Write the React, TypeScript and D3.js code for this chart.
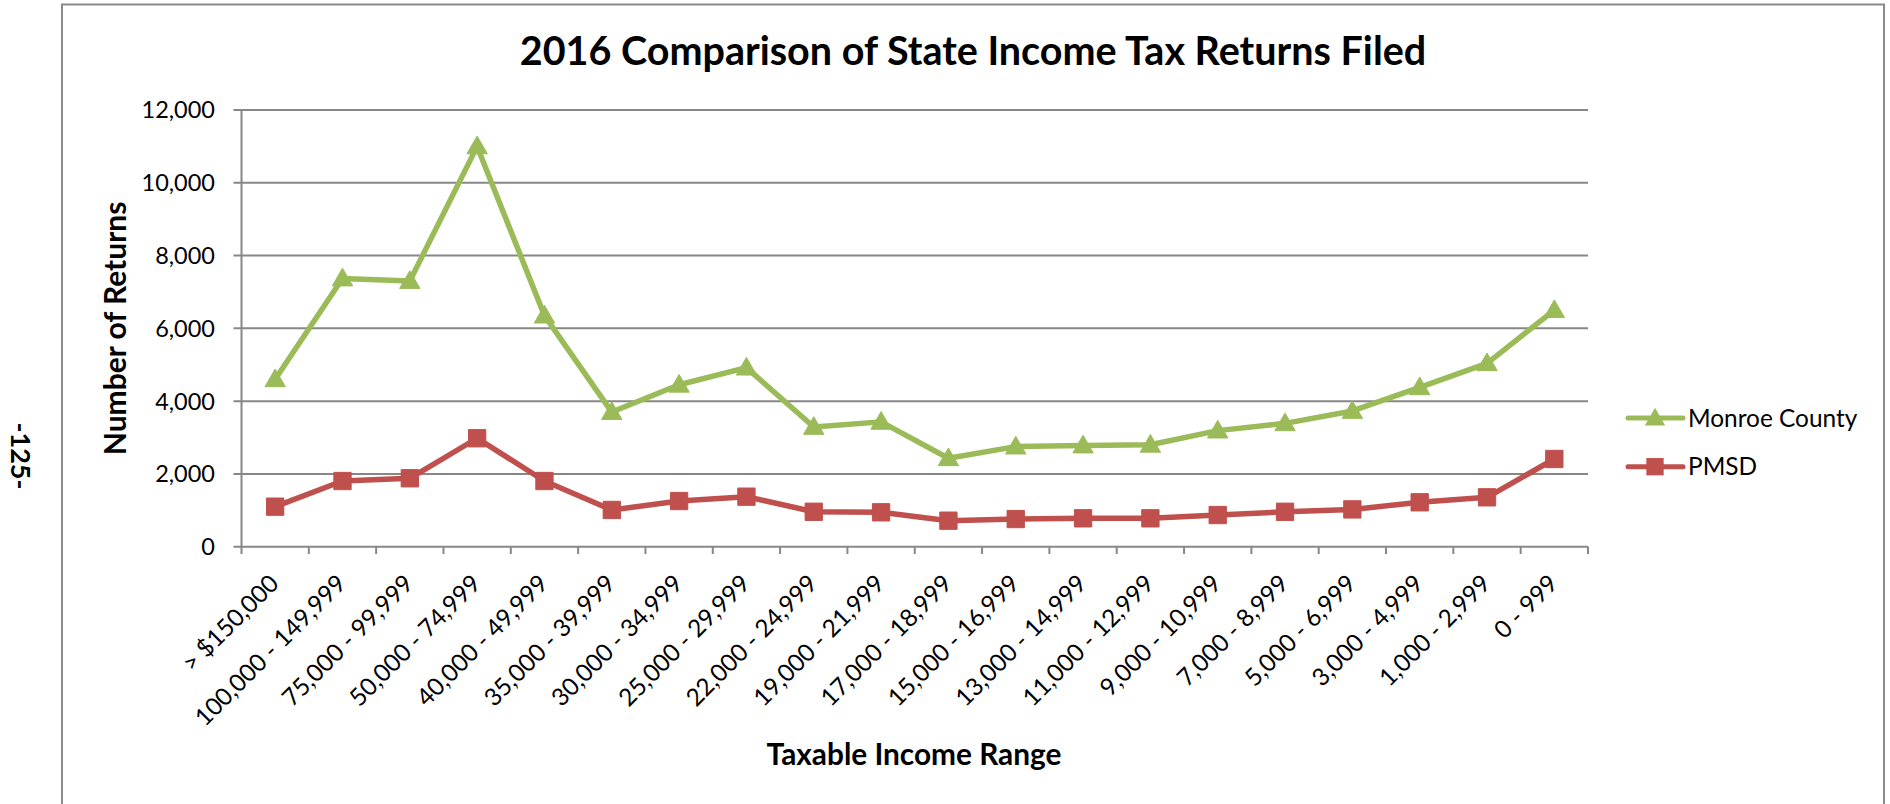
import React from "react";
import * as d3 from "d3";

const categories: string[] = [
  "> $150,000",
  "100,000 - 149,999",
  "75,000 - 99,999",
  "50,000 - 74,999",
  "40,000 - 49,999",
  "35,000 - 39,999",
  "30,000 - 34,999",
  "25,000 - 29,999",
  "22,000 - 24,999",
  "19,000 - 21,999",
  "17,000 - 18,999",
  "15,000 - 16,999",
  "13,000 - 14,999",
  "11,000 - 12,999",
  "9,000 - 10,999",
  "7,000 - 8,999",
  "5,000 - 6,999",
  "3,000 - 4,999",
  "1,000 - 2,999",
  "0 - 999",
];

const monroeCounty: number[] = [
  4600, 7370, 7300, 11000, 6350, 3700, 4450, 4920, 3290, 3430,
  2430, 2750, 2780, 2800, 3190, 3390, 3730, 4380, 5040, 6500,
];

const pmsd: number[] = [
  1100, 1805, 1880, 2980, 1805, 1010, 1255, 1375, 960, 945,
  715, 760, 780, 780, 870, 960, 1025, 1220, 1357, 2410,
];

const yTicks: number[] = [0, 2000, 4000, 6000, 8000, 10000, 12000];

const seriesNames: string[] = ["Monroe County", "PMSD"];
const seriesColors: string[] = ["#9BBB59", "#C0504D"];

const FONT = "Lato, 'Open Sans', sans-serif";

export default function App() {
  const plotLeft = 241.5;
  const plotRight = 1588;
  const plotTop = 110;
  const plotBottom = 546.7;

  const x = d3.scaleBand<string>().domain(categories).range([plotLeft, plotRight]).padding(0);
  const y = d3.scaleLinear().domain([0, 12000]).range([plotBottom, plotTop]);
  const cx = (c: string) => (x(c) as number) + x.bandwidth() / 2;

  const fmt = d3.format(",");
  const line = d3
    .line<number>()
    .x((_, i) => cx(categories[i]))
    .y((d) => y(d));

  const tri = d3.symbol().type(d3.symbolTriangle).size(180)();
  const sq = d3.symbol().type(d3.symbolSquare).size(300)();
  const markers = [tri, sq];
  const series = [monroeCounty, pmsd];

  const grid = "#878787";
  const boundaries = [...categories.map((c) => x(c) as number), plotRight];

  const legendY = [418, 466.7];

  return (
    <svg
      width={1890}
      height={804}
      style={{ position: "absolute", left: 0, top: 0, background: "#fff" }}
    >
      <rect x={0} y={0} width={1890} height={804} fill="#fff" />
      {/* page number */}
      <text
        transform="translate(21,456) rotate(90)"
        textAnchor="middle"
        dominantBaseline="central"
        fontFamily={FONT}
        fontWeight="bold"
        fontSize={27}
        fill="#000"
      >
        -125-
      </text>
      {/* chart border */}
      <rect x={62} y={4.5} width={1822} height={830} fill="none" stroke="#8a8a8a" strokeWidth={2} />

      {/* title */}
      <text
        x={973}
        y={65}
        textAnchor="middle"
        fontFamily={FONT}
        fontWeight="bold"
        fontSize={39.5}
        fill="#000"
      >
        2016 Comparison of State Income Tax Returns Filed
      </text>

      {/* gridlines */}
      {yTicks.map((t) => (
        <g key={t}>
          <line x1={plotLeft - 8} x2={plotRight} y1={y(t)} y2={y(t)} stroke={grid} strokeWidth={2} />
          <text
            x={215}
            y={y(t)}
            dy="0.36em"
            textAnchor="end"
            fontFamily={FONT}
            fontSize={23.5}
            fill="#000"
          >
            {fmt(t)}
          </text>
        </g>
      ))}
      {/* y axis */}
      <line x1={plotLeft} x2={plotLeft} y1={plotTop} y2={plotBottom} stroke={grid} strokeWidth={2} />
      {/* x ticks */}
      {boundaries.map((b, i) => (
        <line key={i} x1={b} x2={b} y1={plotBottom} y2={554} stroke={grid} strokeWidth={2} />
      ))}
      {/* x labels */}
      {categories.map((c) => (
        <text
          key={c}
          transform={`translate(${cx(c) + 5},585) rotate(-45)`}
          textAnchor="end"
          fontFamily={FONT}
          fontSize={24.3}
          fill="#000"
        >
          {c}
        </text>
      ))}

      {/* series */}
      {series.map((s, si) => (
        <g key={si}>
          <path
            d={line(s) as string}
            fill="none"
            stroke={seriesColors[si]}
            strokeWidth={5.5}
            strokeLinejoin="round"
            strokeLinecap="round"
          />
          {s.map((v, i) => (
            <path
              key={i}
              d={markers[si] as string}
              transform={`translate(${cx(categories[i])},${y(v) + (si === 0 ? 1.5 : 0)})`}
              fill={seriesColors[si]}
              stroke={seriesColors[si]}
              strokeWidth={1}
            />
          ))}
        </g>
      ))}

      {/* axis titles */}
      <text
        transform={`translate(126,${(plotTop + plotBottom) / 2}) rotate(-90)`}
        textAnchor="middle"
        fontFamily={FONT}
        fontWeight="bold"
        fontSize={30}
        fill="#000"
      >
        Number of Returns
      </text>
      <text
        x={914}
        y={765}
        textAnchor="middle"
        fontFamily={FONT}
        fontWeight="bold"
        fontSize={29.8}
        fill="#000"
      >
        Taxable Income Range
      </text>

      {/* legend */}
      {seriesNames.map((n, i) => (
        <g key={n}>
          <line
            x1={1628}
            x2={1683}
            y1={legendY[i]}
            y2={legendY[i]}
            stroke={seriesColors[i]}
            strokeWidth={5}
            strokeLinecap="round"
          />
          <path
            d={markers[i] as string}
            transform={`translate(1655,${legendY[i] + (i === 0 ? 1.5 : 0)})`}
            fill={seriesColors[i]}
          />
          <text
            x={1688}
            y={legendY[i]}
            dy="0.36em"
            fontFamily={FONT}
            fontSize={24.4}
            fill="#000"
          >
            {n}
          </text>
        </g>
      ))}
    </svg>
  );
}
